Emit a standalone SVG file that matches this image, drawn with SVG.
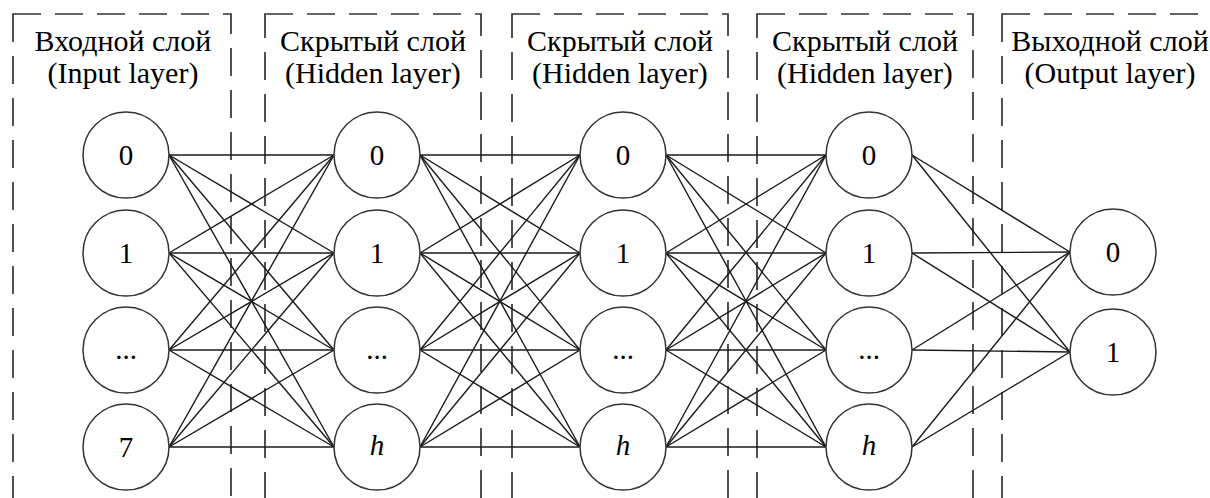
<svg xmlns="http://www.w3.org/2000/svg" width="1210" height="498" viewBox="0 0 1210 498">
<style>
.box{fill:none;stroke:#333;stroke-width:1.7;stroke-dasharray:28 14}
.c line{stroke:#1a1a1a;stroke-width:1.4}
.n circle{fill:#fff;stroke:#333;stroke-width:1.5}
.t{font-family:"Liberation Serif","Times New Roman",serif;font-size:30px;fill:#000;text-anchor:middle}
.d{font-family:"Liberation Serif","Times New Roman",serif;font-size:29px;fill:#000;text-anchor:middle}
.i{font-style:italic}
</style>
<rect width="1210" height="498" fill="#fff"/>
<g id="layer-boxes">
<rect class="box" x="13" y="14" width="218" height="510"/>
<rect class="box" x="265" y="14" width="216" height="510"/>
<rect class="box" x="512" y="14" width="216" height="510"/>
<rect class="box" x="757" y="14" width="216" height="510"/>
<rect class="box" x="1002" y="14" width="260" height="510"/>
</g>
<g id="titles">
<text class="t" x="123" y="51">Входной слой</text>
<text class="t" x="123" y="83">(Input layer)</text>
<text class="t" x="373" y="51">Скрытый слой</text>
<text class="t" x="373" y="83">(Hidden layer)</text>
<text class="t" x="620" y="51">Скрытый слой</text>
<text class="t" x="620" y="83">(Hidden layer)</text>
<text class="t" x="865" y="51">Скрытый слой</text>
<text class="t" x="865" y="83">(Hidden layer)</text>
<text class="t" x="1110" y="51">Выходной слой</text>
<text class="t" x="1110" y="83">(Output layer)</text>
</g>
<g id="connectors" class="c">
<line x1="169" y1="155" x2="334" y2="155"/><line x1="169" y1="155" x2="334" y2="253"/><line x1="169" y1="155" x2="334" y2="350"/><line x1="169" y1="155" x2="334" y2="447"/>
<line x1="169" y1="253" x2="334" y2="155"/><line x1="169" y1="253" x2="334" y2="253"/><line x1="169" y1="253" x2="334" y2="350"/><line x1="169" y1="253" x2="334" y2="447"/>
<line x1="169" y1="350" x2="334" y2="155"/><line x1="169" y1="350" x2="334" y2="253"/><line x1="169" y1="350" x2="334" y2="350"/><line x1="169" y1="350" x2="334" y2="447"/>
<line x1="169" y1="447" x2="334" y2="155"/><line x1="169" y1="447" x2="334" y2="253"/><line x1="169" y1="447" x2="334" y2="350"/><line x1="169" y1="447" x2="334" y2="447"/>
<line x1="420" y1="155" x2="580" y2="155"/><line x1="420" y1="155" x2="580" y2="253"/><line x1="420" y1="155" x2="580" y2="350"/><line x1="420" y1="155" x2="580" y2="447"/>
<line x1="420" y1="253" x2="580" y2="155"/><line x1="420" y1="253" x2="580" y2="253"/><line x1="420" y1="253" x2="580" y2="350"/><line x1="420" y1="253" x2="580" y2="447"/>
<line x1="420" y1="350" x2="580" y2="155"/><line x1="420" y1="350" x2="580" y2="253"/><line x1="420" y1="350" x2="580" y2="350"/><line x1="420" y1="350" x2="580" y2="447"/>
<line x1="420" y1="447" x2="580" y2="155"/><line x1="420" y1="447" x2="580" y2="253"/><line x1="420" y1="447" x2="580" y2="350"/><line x1="420" y1="447" x2="580" y2="447"/>
<line x1="666" y1="155" x2="826" y2="155"/><line x1="666" y1="155" x2="826" y2="253"/><line x1="666" y1="155" x2="826" y2="350"/><line x1="666" y1="155" x2="826" y2="447"/>
<line x1="666" y1="253" x2="826" y2="155"/><line x1="666" y1="253" x2="826" y2="253"/><line x1="666" y1="253" x2="826" y2="350"/><line x1="666" y1="253" x2="826" y2="447"/>
<line x1="666" y1="350" x2="826" y2="155"/><line x1="666" y1="350" x2="826" y2="253"/><line x1="666" y1="350" x2="826" y2="350"/><line x1="666" y1="350" x2="826" y2="447"/>
<line x1="666" y1="447" x2="826" y2="155"/><line x1="666" y1="447" x2="826" y2="253"/><line x1="666" y1="447" x2="826" y2="350"/><line x1="666" y1="447" x2="826" y2="447"/>
<line x1="912" y1="155" x2="1070" y2="252"/><line x1="912" y1="155" x2="1070" y2="352"/>
<line x1="912" y1="253" x2="1070" y2="252"/><line x1="912" y1="253" x2="1070" y2="352"/>
<line x1="912" y1="350" x2="1070" y2="252"/><line x1="912" y1="350" x2="1070" y2="352"/>
<line x1="912" y1="447" x2="1070" y2="252"/><line x1="912" y1="447" x2="1070" y2="352"/>
</g>
<g id="input-layer" class="n">
<g id="in0"><circle cx="126" cy="155" r="43"/><text class="d" x="126" y="165">0</text></g>
<g id="in1"><circle cx="126" cy="253" r="43"/><text class="d" x="126" y="263">1</text></g>
<g id="in2"><circle cx="126" cy="350" r="43"/><text class="d" x="126" y="359">...</text></g>
<g id="in7"><circle cx="126" cy="447" r="43"/><text class="d" x="126" y="457">7</text></g>
</g>
<g id="hidden-layer-1" class="n">
<g id="h1n0"><circle cx="377" cy="155" r="43"/><text class="d" x="377" y="165">0</text></g>
<g id="h1n1"><circle cx="377" cy="253" r="43"/><text class="d" x="377" y="263">1</text></g>
<g id="h1n2"><circle cx="377" cy="350" r="43"/><text class="d" x="377" y="359">...</text></g>
<g id="h1nh"><circle cx="377" cy="447" r="43"/><text class="d i" x="377" y="455">h</text></g>
</g>
<g id="hidden-layer-2" class="n">
<g id="h2n0"><circle cx="623" cy="155" r="43"/><text class="d" x="623" y="165">0</text></g>
<g id="h2n1"><circle cx="623" cy="253" r="43"/><text class="d" x="623" y="263">1</text></g>
<g id="h2n2"><circle cx="623" cy="350" r="43"/><text class="d" x="623" y="359">...</text></g>
<g id="h2nh"><circle cx="623" cy="447" r="43"/><text class="d i" x="623" y="455">h</text></g>
</g>
<g id="hidden-layer-3" class="n">
<g id="h3n0"><circle cx="869" cy="155" r="43"/><text class="d" x="869" y="165">0</text></g>
<g id="h3n1"><circle cx="869" cy="253" r="43"/><text class="d" x="869" y="263">1</text></g>
<g id="h3n2"><circle cx="869" cy="350" r="43"/><text class="d" x="869" y="359">...</text></g>
<g id="h3nh"><circle cx="869" cy="447" r="43"/><text class="d i" x="869" y="455">h</text></g>
</g>
<g id="output-layer" class="n">
<g id="out0"><circle cx="1113" cy="252" r="43"/><text class="d" x="1113" y="262">0</text></g>
<g id="out1"><circle cx="1113" cy="352" r="43"/><text class="d" x="1113" y="362">1</text></g>
</g>
</svg>
